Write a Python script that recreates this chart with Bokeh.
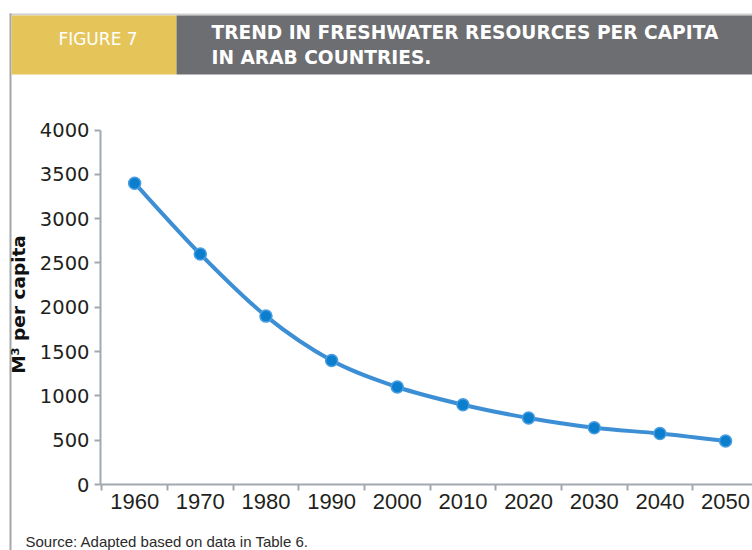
import math
from bokeh.plotting import figure
from bokeh.models import Range1d, FixedTicker, ColumnDataSource, LinearAxis
from bokeh.core.properties import value
from bokeh.embed import file_html
from bokeh.resources import INLINE

# Freshwater resources per capita in Arab countries (m3 per person)
years = [1960, 1970, 1980, 1990, 2000, 2010, 2020, 2030, 2040, 2050]
per_capita = [3400, 2600, 1900, 1400, 1100, 900, 750, 640, 575, 490]
y_ticks = [0, 500, 1000, 1500, 2000, 2500, 3000, 3500, 4000]

figure_tag = "FIGURE 7"
title_lines = ["TREND IN FRESHWATER RESOURCES PER CAPITA", "IN ARAB COUNTRIES."]
source_note = "Source: Adapted based on data in Table 6."
y_label = "M\u00b3 per capita"

W, H = 752, 550

# chart area on the page (pixels) and the data span it shows
AREA_LEFT, AREA_RIGHT, AREA_TOP, AREA_BOTTOM = 100, 752, 129.5, 484
X_LO, X_HI = 1954.8, 2054.1
Y_LO, Y_HI = 0, 4000

AXIS_COLOR = "#a2a8b0"
LINE_COLOR = "#3d8fd5"
FRAME_GRAY = "#a4a6aa"
TOP_RULE = "#cfcfd1"
GOLD = "#e5c559"
SLATE = "#6d6e71"

# The plotting frame covers the whole page: the default ranges are page pixels
# (y growing downwards) for the header and footer, extra ranges hold the data.
p = figure(width=W, height=H, output_backend="svg", toolbar_location=None,
           x_range=Range1d(0, W), y_range=Range1d(H, 0),
           x_axis_type=None, y_axis_type=None,
           min_border=0, min_border_left=0, min_border_right=0,
           min_border_top=0, min_border_bottom=0)
p.outline_line_color = None
p.grid.visible = False
p.background_fill_color = "white"
p.border_fill_color = "white"

x_per_px = (X_HI - X_LO) / (AREA_RIGHT - AREA_LEFT)
y_per_px = (Y_HI - Y_LO) / (AREA_BOTTOM - AREA_TOP)
p.extra_x_ranges = {"yr": Range1d(X_LO - AREA_LEFT * x_per_px,
                                  X_HI + (W - AREA_RIGHT) * x_per_px)}
p.extra_y_ranges = {"val": Range1d(Y_LO - (H - AREA_BOTTOM) * y_per_px,
                                   Y_HI + AREA_TOP * y_per_px)}

# ---- header bands and page rules ----
p.quad(left=[9], right=[W], top=[13], bottom=[15], fill_color=TOP_RULE, line_color=None)
p.quad(left=[9], right=[11], top=[13], bottom=[H], fill_color=FRAME_GRAY, line_color=None)
p.quad(left=[11], right=[176], top=[15], bottom=[74], fill_color=GOLD, line_color=None)
p.quad(left=[176], right=[W], top=[15], bottom=[74], fill_color=SLATE, line_color=None)
p.text(x=[97.5], y=[38.5], text=[figure_tag], text_font=value("DejaVu Sans"),
       text_font_size="17px", text_color="white", text_align="center",
       text_baseline="middle")
p.text(x=[211, 211], y=[31.5, 57], text=title_lines, text_font=value("DejaVu Sans"),
       text_font_size="18.6px", text_font_style="bold", text_color="white",
       text_align="left", text_baseline="middle")

# ---- axes ----
boundaries = [y - 5 for y in years]
xaxis = LinearAxis(x_range_name="yr", y_range_name="val", fixed_location=Y_LO,
                   bounds=(X_LO, X_HI),
                   ticker=FixedTicker(ticks=years, minor_ticks=boundaries))
xaxis.major_tick_in = 0
xaxis.major_tick_out = 0
xaxis.minor_tick_in = 0
xaxis.minor_tick_out = 6
xaxis.minor_tick_line_color = AXIS_COLOR
xaxis.minor_tick_line_width = 2
xaxis.major_label_standoff = 3
xaxis.major_label_text_font = "Liberation Sans"
xaxis.major_label_text_font_size = "22px"

yaxis = LinearAxis(x_range_name="yr", y_range_name="val", fixed_location=X_LO,
                   bounds=(Y_LO, Y_HI),
                   ticker=FixedTicker(ticks=y_ticks, minor_ticks=[]))
yaxis.major_tick_in = 0
yaxis.major_tick_out = 6
yaxis.major_label_standoff = 5
yaxis.major_label_text_font = "DejaVu Sans"
yaxis.major_label_text_font_size = "19.5px"

for ax in (xaxis, yaxis):
    ax.axis_line_color = AXIS_COLOR
    ax.axis_line_width = 2
    ax.major_tick_line_color = AXIS_COLOR
    ax.major_tick_line_width = 2
    ax.major_label_text_color = "#231f20"
p.add_layout(xaxis, "below")
p.add_layout(yaxis, "left")

p.text(x=[17.5], y=[304], text=[y_label], angle=math.pi / 2,
       text_font=value("DejaVu Sans"), text_font_size="18.5px", text_font_style="bold",
       text_color="#111111", text_align="center", text_baseline="middle")

# ---- smooth curve through the points (Catmull-Rom segments as cubic Beziers) ----
n = len(years)
x0, y0, x1, y1, cx0, cy0, cx1, cy1 = ([] for _ in range(8))
for i in range(n - 1):
    a = max(i - 1, 0)
    b = min(i + 2, n - 1)
    x0.append(years[i]); y0.append(per_capita[i])
    x1.append(years[i + 1]); y1.append(per_capita[i + 1])
    cx0.append(years[i] + (years[i + 1] - years[a]) / 6)
    cy0.append(per_capita[i] + (per_capita[i + 1] - per_capita[a]) / 6)
    cx1.append(years[i + 1] - (years[b] - years[i]) / 6)
    cy1.append(per_capita[i + 1] - (per_capita[b] - per_capita[i]) / 6)
curve = ColumnDataSource(dict(x0=x0, y0=y0, x1=x1, y1=y1, cx0=cx0, cy0=cy0, cx1=cx1, cy1=cy1))
p.bezier(x0="x0", y0="y0", x1="x1", y1="y1", cx0="cx0", cy0="cy0", cx1="cx1", cy1="cy1",
         source=curve, line_color=LINE_COLOR, line_width=4,
         x_range_name="yr", y_range_name="val")

p.scatter(years, per_capita, size=12, fill_color="#0b7fcd",
          line_color="#4a9de0", line_width=1.5,
          x_range_name="yr", y_range_name="val")

# ---- footer ----
p.text(x=[25], y=[540.5], text=[source_note], text_font=value("Liberation Sans"),
       text_font_size="15px", text_color="#2b2b2b", text_align="left",
       text_baseline="middle")

open("out.html", "w").write(file_html(p, INLINE))
